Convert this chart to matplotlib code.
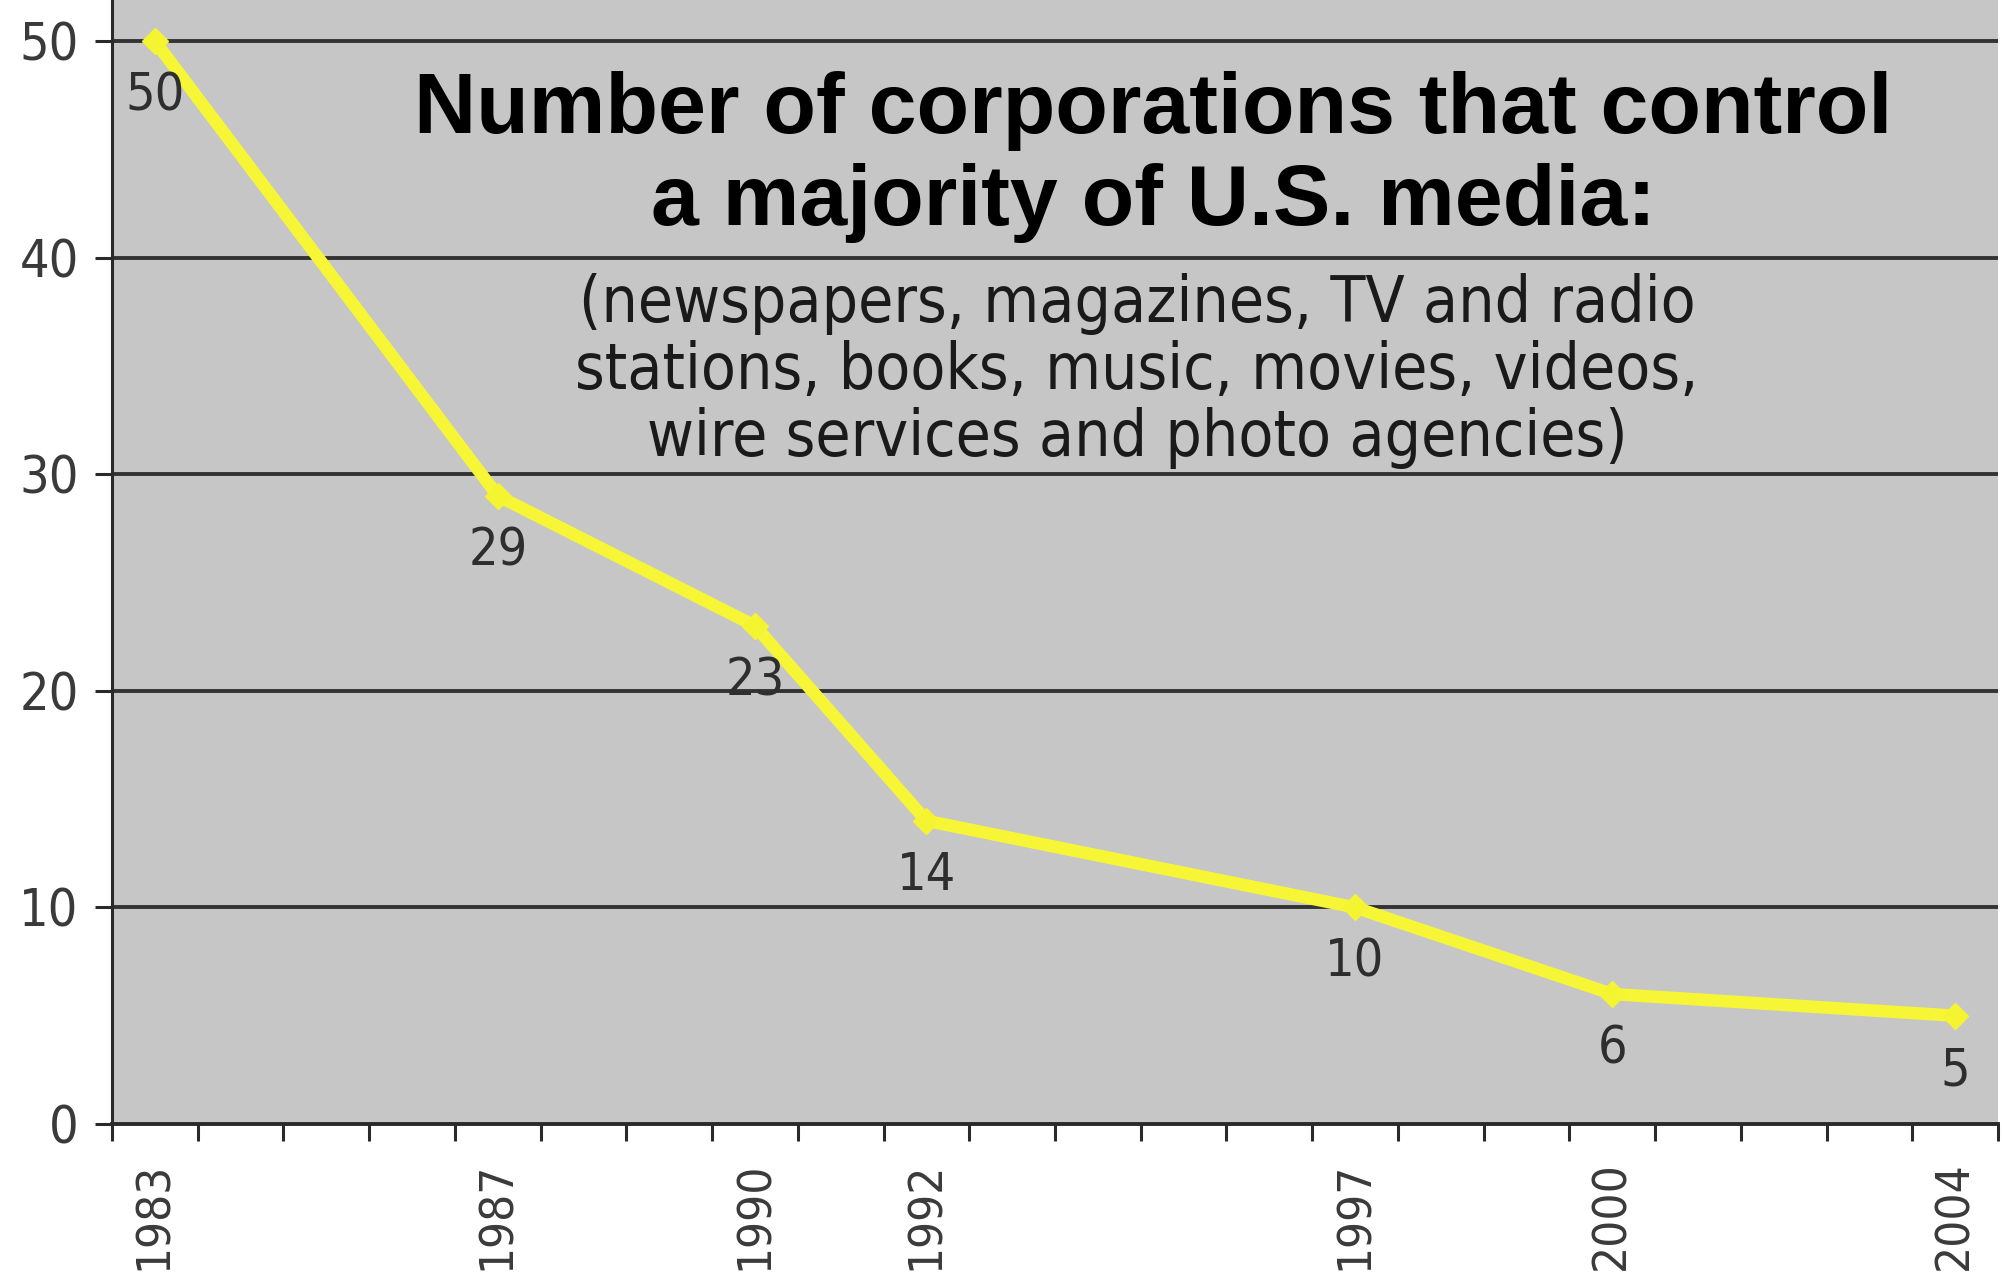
import matplotlib
matplotlib.use('Agg')
import matplotlib.pyplot as plt
from matplotlib import font_manager
from matplotlib.ticker import FixedLocator

# Data
years = [1983, 1987, 1990, 1992, 1997, 2000, 2004]
corporations = [50, 29, 23, 14, 10, 6, 5]
y_ticks = [0, 10, 20, 30, 40, 50]

title = "Number of corporations that control\na majority of U.S. media:"
subtitle = ("(newspapers, magazines, TV and radio\n"
            "stations, books, music, movies, videos,\n"
            "wire services and photo agencies)")

# look for a narrow face, the original uses something like Arial Narrow
have_cond = any(f.name == 'DejaVu Sans' and 'condensed' in str(f.stretch)
                for f in font_manager.fontManager.ttflist)
if have_cond:
    narrow = dict(family='DejaVu Sans', stretch='condensed')
    k = 1.1
else:
    narrow = dict(family='DejaVu Sans')
    k = 1.0

W, H = 2002, 1281
fig = plt.figure(figsize=(W / 100, H / 100), dpi=100)
fig.patch.set_facecolor('white')

# axes box in pixels: left 112, right 1998, bottom 1124, top = figure top
ax = fig.add_axes([112 / W, 1 - 1124 / H, (1998 - 112) / W, 1124 / H])
ax.set_facecolor('#c6c6c6')
ax.set_xlim(years[0] - 0.5, years[-1] + 0.5)
ax.set_ylim(0, 51.9)

# horizontal gridlines
for v in y_ticks[1:]:
    ax.axhline(v, color='#333333', lw=2.8, zorder=1)

# the line
ax.plot(years, corporations, color='#f6f636', lw=9, zorder=3,
        solid_joinstyle='round', solid_capstyle='round')
ax.plot(years, corporations, ls='none', marker='D', ms=13,
        color='#f4f430', zorder=4)

# value labels under each point
for x, v in zip(years, corporations):
    ax.annotate(str(v), (x, v), xytext=(0, -40), textcoords='offset points',
                ha='center', va='center', fontsize=34 * k, color='#2e2e2e',
                zorder=5, **narrow)

# spines
for s in ['top', 'right']:
    ax.spines[s].set_visible(False)
ax.spines['left'].set_linewidth(2.2)
ax.spines['bottom'].set_linewidth(2.8)
ax.spines['left'].set_color('#2a2a2a')
ax.spines['bottom'].set_color('#2a2a2a')

# y axis
ax.set_yticks(y_ticks)
ax.set_yticklabels([str(t) for t in y_ticks], fontsize=34 * k,
                   color='#3a3a3a', **narrow)
ax.tick_params(axis='y', length=12, width=2.2, color='#2a2a2a', pad=12)

# x axis: category style ticks between years, labels at data years
ax.set_xticks(years)
ax.set_xticklabels([str(y) for y in years], rotation=90, fontsize=31 * k,
                   color='#3a3a3a', **narrow)
ax.tick_params(axis='x', which='major', length=0, pad=27)
ax.xaxis.set_minor_locator(FixedLocator(
    [y + 0.5 for y in range(years[0] - 1, years[-1] + 1)]))
ax.tick_params(axis='x', which='minor', length=12, width=2.2, color='#2a2a2a')

# title block
fig.text(1153 / W, 1 - 157 / H, title, ha='center', va='center',
         fontsize=62, fontweight='bold', color='black', linespacing=1.2,
         family=['Liberation Sans', 'DejaVu Sans'])
fig.text(1137 / W, 1 - 371 / H, subtitle, ha='center', va='center',
         fontsize=(46 if have_cond else 41), color='#1a1a1a',
         linespacing=(1.1 if have_cond else 1.22), **narrow)

fig.savefig('out.png', dpi=100, facecolor='white')
